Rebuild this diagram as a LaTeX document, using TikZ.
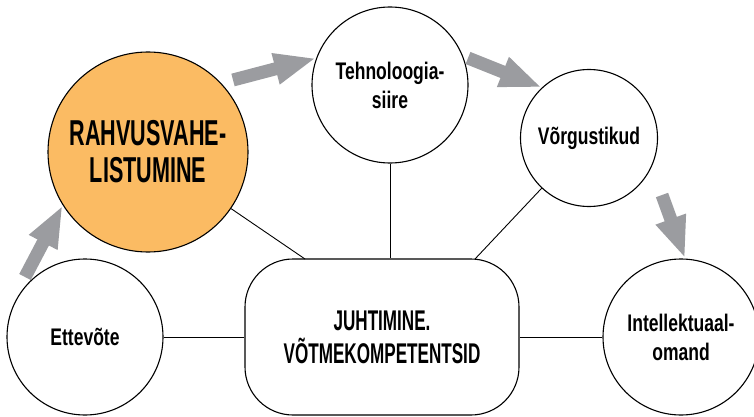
\documentclass[tikz,border=0pt]{standalone}
\usepackage{fontspec}
\setmainfont{Liberation Sans}
% condensed bold faces for the labels
\newfontfamily\capsfont{Liberation Sans}[FakeStretch=0.6]
\newfontfamily\lowfont{Liberation Sans}[FakeStretch=0.73]
\usetikzlibrary{arrows.meta}

\definecolor{orangefill}{RGB}{251,187,99}
\definecolor{arrowgray}{RGB}{155,156,160}

\begin{document}
\begin{tikzpicture}[x=1pt,y=-1pt,
  bubble/.style={circle, draw=black, line width=1.1pt, fill=white,
    inner sep=0pt, align=center, font=\lowfont\bfseries\fontsize{24}{29}\selectfont},
  hubbox/.style={rectangle, rounded corners=48pt, draw=black, line width=1.1pt,
    fill=white, align=center, font=\capsfont\bfseries\fontsize{28.5}{33}\selectfont},
  link/.style={draw=black, line width=0.9pt},
  flow/.style={draw=arrowgray, line width=13pt, -{Triangle[length=42pt,width=29pt]}},
]
\useasboundingbox (0,0) rectangle (754,417);

% circles and the central box
\node[bubble, minimum size=200pt, fill=orangefill,
      font=\capsfont\bfseries\fontsize{36}{37}\selectfont]
      (rahvus) at (148,152) {RAHVUSVAHE-\\LISTUMINE};
\node[bubble, minimum size=156pt] (tehno) at (390,85) {Tehnoloogia-\\siire};
\node[bubble, minimum size=137pt] (vork) at (589,138) {Võrgustikud};
\node[bubble, minimum size=156pt] (intel) at (681,337) {Intellektuaal-\\omand};
\node[bubble, minimum size=156pt] (ettev) at (85,337) {Ettevõte};
\node[hubbox, minimum width=274pt, minimum height=156pt]
      (juht) at (382,337) {JUHTIMINE.\\VÕTMEKOMPETENTSID};

% thin links to the central box
\coordinate (jA) at (305,259);
\coordinate (jB) at (475,259);
\draw[link] (rahvus) -- (jA);
\draw[link] (tehno.south) -- (tehno.south |- juht.north);
\draw[link] (vork) -- (jB);
\draw[link] (ettev) -- (juht);
\draw[link] (juht) -- (intel);

% grey flow arrows
\coordinate (t1) at (25,277);
\coordinate (t2) at (233,80);
\coordinate (t3) at (468,58);
\coordinate (t4) at (662,195);
\draw[flow] (t1) -- (rahvus.212);
\draw[flow] (t2) -- (tehno.160);
\draw[flow] (t3) -- (vork.133);
\draw[flow] (t4) -- (intel.87);
\end{tikzpicture}
\end{document}
